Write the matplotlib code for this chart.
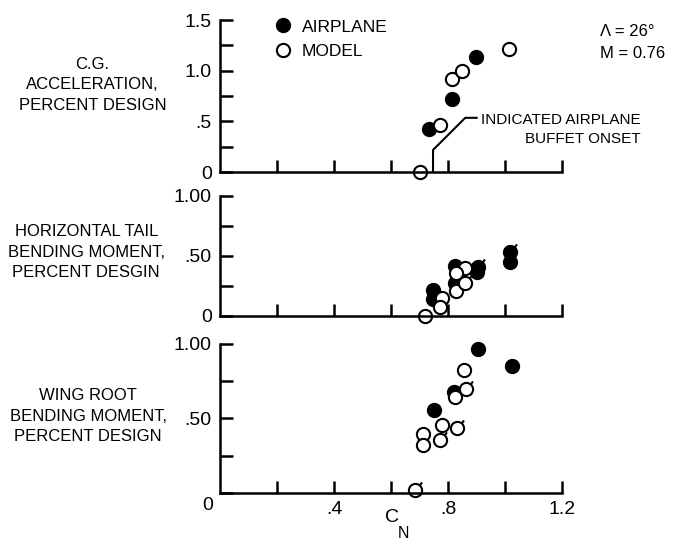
import matplotlib
matplotlib.use('Agg')
import matplotlib.pyplot as plt
from matplotlib.path import Path

plt.rcParams['font.family'] = ['Liberation Sans', 'DejaVu Sans']

# C.G. acceleration (top)
cg_air_cn = [0.732, 0.815, 0.896]
cg_air = [0.42, 0.72, 1.135]
cg_mod_cn = [0.70, 0.77, 0.815, 0.85, 1.012]
cg_mod = [0.0, 0.465, 0.92, 1.0, 1.21]

# horizontal tail bending moment (middle)
ht_air_cn = [0.748, 0.748, 0.825, 0.825, 0.90, 1.018]
ht_air = [0.217, 0.139, 0.417, 0.278, 0.37, 0.453]
ht_air_flag_cn = [0.906, 1.018]
ht_air_flag = [0.411, 0.536]
ht_mod_cn = [0.719, 0.778, 0.772, 0.86, 0.827, 0.827]
ht_mod = [0.0, 0.147, 0.078, 0.397, 0.211, 0.36]
ht_mod_flag_cn = [0.86]
ht_mod_flag = [0.272]

# wing root bending moment (bottom)
wr_air_cn = [0.904, 1.023, 0.822, 0.752]
wr_air = [0.964, 0.852, 0.674, 0.555]
wr_mod_cn = [0.857, 0.825, 0.778, 0.713, 0.713]
wr_mod = [0.823, 0.644, 0.454, 0.394, 0.32]
wr_mod_flag_cn = [0.863, 0.83, 0.772, 0.684]
wr_mod_flag = [0.694, 0.432, 0.354, 0.018]

# buffet onset leader line (top panel, data coords)
lead_x = [0.747, 0.747, 0.86, 0.90]
lead_y = [0.0, 0.218, 0.535, 0.535]

# circle with a small flag
flag_path = Path.make_compound_path(
    Path.unit_circle(),
    Path([(0.64, 0.77), (0.99, 1.22)], [Path.MOVETO, Path.LINETO]))

MS = 9.5
LW = 1.8
FS = 14


def style(ax, ylim, yticks, ylabels):
    ax.set_xlim(0, 1.2)
    ax.set_ylim(*ylim)
    for s in ['top', 'right']:
        ax.spines[s].set_visible(False)
    for s in ['left', 'bottom']:
        ax.spines[s].set_linewidth(LW)
    ax.set_xticks([0.2, 0.4, 0.6, 0.8, 1.0, 1.2])
    ax.set_xticklabels([])
    ax.set_yticks(yticks)
    ax.set_yticklabels(ylabels)
    ax.tick_params(direction='in', length=9, width=LW, labelsize=FS, pad=6)


def points(ax, x, y, filled, flag=False):
    ax.plot(x, y, linestyle='none',
            marker=flag_path if flag else 'o',
            markersize=MS * 1.22 if flag else MS,
            markerfacecolor='black' if filled else 'white',
            markeredgecolor='black', markeredgewidth=1.5, clip_on=False)


fig = plt.figure(figsize=(6.79, 5.41), dpi=100)
ax1 = fig.add_axes([0.324, 0.682, 0.504, 0.281])
ax2 = fig.add_axes([0.324, 0.416, 0.504, 0.222])
ax3 = fig.add_axes([0.324, 0.089, 0.504, 0.276])

style(ax1, (0, 1.5), [0, 0.25, 0.5, 0.75, 1.0, 1.25, 1.5],
      ['0', '', '.5', '', '1.0', '', '1.5'])
style(ax2, (0, 1.0), [0, 0.25, 0.5, 0.75, 1.0],
      ['0', '', '.50', '', '1.00'])
style(ax3, (0, 1.0), [0, 0.25, 0.5, 0.75, 1.0],
      ['', '', '.50', '', '1.00'])
ax3.set_xticklabels(['', '.4', '', '.8', '', '1.2'])
ax3.annotate('0', xy=(0, 0), xytext=(-9, -9), textcoords='offset points',
             ha='center', va='center', fontsize=FS, annotation_clip=False)

# x label C with subscript N
fig.text(392 / 679, 1 - 518 / 541, 'C', ha='center', va='center', fontsize=FS)
fig.text(403 / 679, 1 - 533 / 541, 'N', ha='center', va='center', fontsize=11.5)

# top panel
points(ax1, cg_air_cn, cg_air, True)
points(ax1, cg_mod_cn, cg_mod, False)
ax1.plot([], [], 'o', ms=MS, mfc='black', mec='black', mew=1.5, label='AIRPLANE')
ax1.plot([], [], 'o', ms=MS, mfc='white', mec='black', mew=1.5, label='MODEL')
ax1.legend(loc='upper left', bbox_to_anchor=(0.158, 1.004), frameon=False,
           fontsize=12.5, handletextpad=0.6, labelspacing=0.53, handlelength=1.0,
           borderpad=0, borderaxespad=0)
ax1.plot(lead_x, lead_y, color='black', lw=1.5)
ax1.text(0.915, 0.42, 'INDICATED AIRPLANE\nBUFFET ONSET', ha='left',
         va='center', multialignment='right', fontsize=11, linespacing=1.4)

# middle panel
points(ax2, ht_air_cn, ht_air, True)
points(ax2, ht_air_flag_cn, ht_air_flag, True, flag=True)
points(ax2, ht_mod_cn, ht_mod, False)
points(ax2, ht_mod_flag_cn, ht_mod_flag, False, flag=True)

# bottom panel
points(ax3, wr_air_cn, wr_air, True)
points(ax3, wr_mod_cn, wr_mod, False)
points(ax3, wr_mod_flag_cn, wr_mod_flag, False, flag=True)

# left-side labels and flight condition
lab = dict(ha='center', va='center', fontsize=12, linespacing=1.45)
fig.text(0.136, 0.843, 'C.G.\nACCELERATION,\nPERCENT DESIGN', **lab)
fig.text(0.127, 0.534, 'HORIZONTAL TAIL\nBENDING MOMENT,\nPERCENT DESGIN', **lab)
fig.text(0.130, 0.231, 'WING ROOT\nBENDING MOMENT,\nPERCENT DESIGN', **lab)
fig.text(0.883, 0.941, '\u039b = 26\u00b0', ha='left', va='center', fontsize=12)
fig.text(0.883, 0.902, 'M = 0.76', ha='left', va='center', fontsize=12)

fig.savefig('out.png', dpi=100)
